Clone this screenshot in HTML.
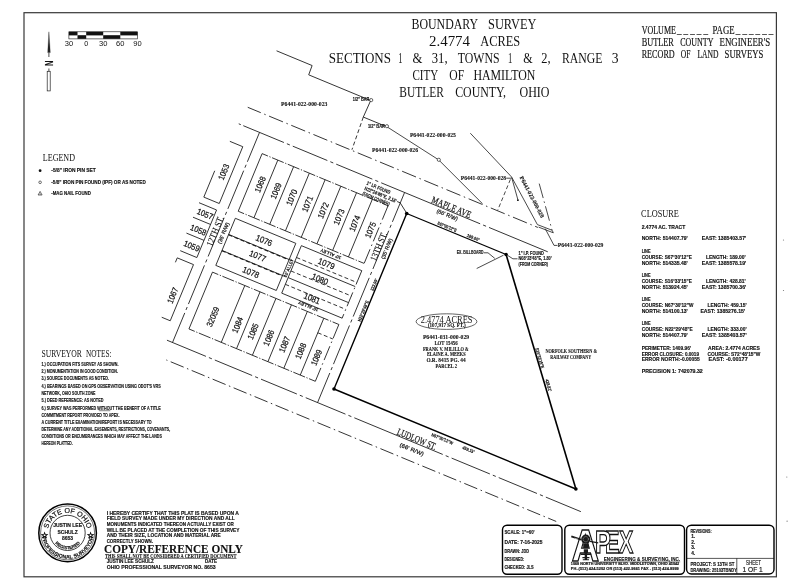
<!DOCTYPE html>
<html><head><meta charset="utf-8"><title>Boundary Survey</title>
<style>
html,body{margin:0;padding:0;background:#fff;}
body{width:795px;height:588px;overflow:hidden;}
svg{display:block;filter:grayscale(1);}
.sa{font-family:"Liberation Sans",sans-serif;fill:#111;}
text.sa[font-weight=bold]{stroke:#111;stroke-width:.14px;}
text.se[font-weight=bold]{stroke:#111;stroke-width:.1px;}
.se{font-family:"Liberation Serif",serif;fill:#111;}
.ln{stroke:#1c1c1c;stroke-width:.8;fill:none;}
.dd{stroke:#1c1c1c;stroke-width:.8;fill:none;stroke-dasharray:15 3.5 1.5 3.5;}
.lt{stroke:#1c1c1c;stroke-width:.8;fill:none;stroke-dasharray:12.6 1.62 1.2 1.62;}
.cl{stroke:#1c1c1c;stroke-width:.8;fill:none;stroke-dasharray:41.4 3.2 3.2 3.2;}
.ds{stroke:#1c1c1c;stroke-width:.8;fill:none;stroke-dasharray:4 2.5;}
.bd{stroke:#000;stroke-width:1.5;fill:none;stroke-linejoin:round;}
.bx{stroke:#000;stroke-width:1.4;fill:none;}
</style></head><body>
<svg width="795" height="588" viewBox="0 0 795 588">
<rect width="795" height="588" fill="#fff"/>

<rect x="24" y="12.7" width="752.4" height="564.1" fill="none" stroke="#383838" stroke-width="1.2"/>
<circle cx="783.5" cy="240" r=".6" fill="#777"/>
<circle cx="783.5" cy="290.5" r=".6" fill="#777"/>
<circle cx="786.8" cy="477" r=".6" fill="#777"/>
<circle cx="787.1" cy="521.2" r=".6" fill="#777"/>
<text class="se" x="411.5" y="28.9" font-size="15.4" textLength="66.7" lengthAdjust="spacingAndGlyphs">BOUNDARY</text>
<text class="se" x="488.0" y="28.9" font-size="15.4" textLength="48.5" lengthAdjust="spacingAndGlyphs">SURVEY</text>
<text class="se" x="429.0" y="45.6" font-size="15.4" textLength="41.0" lengthAdjust="spacingAndGlyphs">2.4774</text>
<text class="se" x="480.2" y="45.6" font-size="15.4" textLength="39.9" lengthAdjust="spacingAndGlyphs">ACRES</text>
<text class="se" x="328.8" y="62.9" font-size="15.4" textLength="62.2" lengthAdjust="spacingAndGlyphs">SECTIONS</text>
<text class="se" x="398.2" y="62.9" font-size="15.4" textLength="4.2" lengthAdjust="spacingAndGlyphs">1</text>
<text class="se" x="412.5" y="62.9" font-size="15.4" textLength="9.9" lengthAdjust="spacingAndGlyphs">&amp;</text>
<text class="se" x="431.8" y="62.9" font-size="15.4" textLength="15.8" lengthAdjust="spacingAndGlyphs">31,</text>
<text class="se" x="457.8" y="62.9" font-size="15.4" textLength="41.8" lengthAdjust="spacingAndGlyphs">TOWNS</text>
<text class="se" x="508.0" y="62.9" font-size="15.4" textLength="4.3" lengthAdjust="spacingAndGlyphs">1</text>
<text class="se" x="523.2" y="62.9" font-size="15.4" textLength="9.4" lengthAdjust="spacingAndGlyphs">&amp;</text>
<text class="se" x="541.2" y="62.9" font-size="15.4" textLength="9.3" lengthAdjust="spacingAndGlyphs">2,</text>
<text class="se" x="562.0" y="62.9" font-size="15.4" textLength="40.4" lengthAdjust="spacingAndGlyphs">RANGE</text>
<text class="se" x="611.8" y="62.9" font-size="15.4" textLength="6.8" lengthAdjust="spacingAndGlyphs">3</text>
<text class="se" x="412.5" y="79.7" font-size="15.4" textLength="25.8" lengthAdjust="spacingAndGlyphs">CITY</text>
<text class="se" x="449.3" y="79.7" font-size="15.4" textLength="14.9" lengthAdjust="spacingAndGlyphs">OF</text>
<text class="se" x="473.4" y="79.7" font-size="15.4" textLength="62.0" lengthAdjust="spacingAndGlyphs">HAMILTON</text>
<text class="se" x="399.3" y="96.5" font-size="15.4" textLength="44.6" lengthAdjust="spacingAndGlyphs">BUTLER</text>
<text class="se" x="455.2" y="96.5" font-size="15.4" textLength="50.9" lengthAdjust="spacingAndGlyphs">COUNTY,</text>
<text class="se" x="519.5" y="96.5" font-size="15.4" textLength="30.0" lengthAdjust="spacingAndGlyphs">OHIO</text>
<text class="se" x="641.7" y="34.1" font-size="11.8" textLength="34.2" lengthAdjust="spacingAndGlyphs" stroke="#111" stroke-width=".18">VOLUME</text>
<text class="se" x="712.5" y="34.1" font-size="11.8" textLength="22.1" lengthAdjust="spacingAndGlyphs" stroke="#111" stroke-width=".18">PAGE</text>
<text class="se" x="676.9" y="34.3" font-size="9" stroke="#111" stroke-width=".3" textLength="31" lengthAdjust="spacing">_____</text>
<text class="se" x="735.8" y="34.3" font-size="9" stroke="#111" stroke-width=".3" textLength="37.5" lengthAdjust="spacing">______</text>
<text class="se" x="641.7" y="46.2" font-size="11.8" textLength="32.2" lengthAdjust="spacingAndGlyphs" stroke="#111" stroke-width=".18">BUTLER</text>
<text class="se" x="680.3" y="46.2" font-size="11.8" textLength="33.2" lengthAdjust="spacingAndGlyphs" stroke="#111" stroke-width=".18">COUNTY</text>
<text class="se" x="719.5" y="46.2" font-size="11.8" textLength="50.7" lengthAdjust="spacingAndGlyphs" stroke="#111" stroke-width=".18">ENGINEER'S</text>
<text class="se" x="641.7" y="57.7" font-size="11.8" textLength="33.0" lengthAdjust="spacingAndGlyphs" stroke="#111" stroke-width=".18">RECORD</text>
<text class="se" x="680.7" y="57.7" font-size="11.8" textLength="9.7" lengthAdjust="spacingAndGlyphs" stroke="#111" stroke-width=".18">OF</text>
<text class="se" x="697.4" y="57.7" font-size="11.8" textLength="21.1" lengthAdjust="spacingAndGlyphs" stroke="#111" stroke-width=".18">LAND</text>
<text class="se" x="724.6" y="57.7" font-size="11.8" textLength="38.6" lengthAdjust="spacingAndGlyphs" stroke="#111" stroke-width=".18">SURVEYS</text>
<rect x="68.9" y="31.8" width="68.6" height="7.1" fill="#fff" stroke="#111" stroke-width=".6"/>
<rect x="68.9" y="31.8" width="8.6" height="3.6" fill="#111"/>
<rect x="77.5" y="35.2" width="8.7" height="3.6" fill="#111"/>
<rect x="86.2" y="31.8" width="17.0" height="3.6" fill="#111"/>
<rect x="103.2" y="35.2" width="17.1" height="3.6" fill="#111"/>
<rect x="120.3" y="31.8" width="17.2" height="3.6" fill="#111"/>
<text class="sa" x="68.9" y="45.8" font-size="6.7" textLength="8.4" lengthAdjust="spacingAndGlyphs" text-anchor="middle">30</text>
<text class="sa" x="86.2" y="45.8" font-size="6.7" textLength="4.0" lengthAdjust="spacingAndGlyphs" text-anchor="middle">0</text>
<text class="sa" x="103.2" y="45.8" font-size="6.7" textLength="8.4" lengthAdjust="spacingAndGlyphs" text-anchor="middle">30</text>
<text class="sa" x="120.3" y="45.8" font-size="6.7" textLength="8.4" lengthAdjust="spacingAndGlyphs" text-anchor="middle">60</text>
<text class="sa" x="137.5" y="45.8" font-size="6.7" textLength="8.4" lengthAdjust="spacingAndGlyphs" text-anchor="middle">90</text>
<path d="M48.9 31.8 L50.3 52.6 L47.7 52.6 Z" fill="#222" stroke="#222" stroke-width=".3"/>
<path d="M48.9 52.5 V57" class="ln"/>
<rect x="47.2" y="71.3" width="3" height="19.6" fill="#fff" stroke="#222" stroke-width=".7"/>
<path d="M48.9 68.5 V71.3" class="ln"/>
<text class="sa" x="52.6" y="66.1" font-size="11.6" textLength="5.4" lengthAdjust="spacingAndGlyphs" font-weight="bold" transform="rotate(-90 52.6 66.1)">N</text>
<text class="se" x="42.8" y="161.4" font-size="11.4" textLength="32.2" lengthAdjust="spacingAndGlyphs">LEGEND</text>
<circle cx="40.1" cy="170.7" r="1.4" fill="#111"/>
<circle cx="40.1" cy="182.3" r="1.3" fill="none" stroke="#111" stroke-width=".6"/>
<path d="M40.1 191.4 L42.1 195 L38.1 195 Z" fill="none" stroke="#111" stroke-width=".6"/><circle cx="40.1" cy="193.9" r=".5" fill="#111"/>
<text class="sa" x="51.3" y="172.0" font-size="5" textLength="44.4" lengthAdjust="spacingAndGlyphs" font-weight="bold">-5/8" IRON PIN SET</text>
<text class="sa" x="51.3" y="183.9" font-size="5" textLength="94.5" lengthAdjust="spacingAndGlyphs" font-weight="bold">-5/8" IRON PIN FOUND (IPF) OR AS NOTED</text>
<text class="sa" x="51.3" y="195.2" font-size="5" textLength="39.5" lengthAdjust="spacingAndGlyphs" font-weight="bold">-MAG NAIL FOUND</text>
<text class="se" x="41.5" y="357.1" font-size="11.4" textLength="40.4" lengthAdjust="spacingAndGlyphs">SURVEYOR</text>
<text class="se" x="85.9" y="357.1" font-size="11.4" textLength="25.6" lengthAdjust="spacingAndGlyphs">NOTES:</text>
<text class="sa" x="41.5" y="365.8" font-size="5.4" textLength="77.0" lengthAdjust="spacingAndGlyphs" font-weight="bold">1.) OCCUPATION FITS SURVEY AS SHOWN.</text>
<text class="sa" x="41.5" y="372.8" font-size="5.4" textLength="76.5" lengthAdjust="spacingAndGlyphs" font-weight="bold">2.) MONUMENTATION IN GOOD CONDITION.</text>
<text class="sa" x="41.5" y="379.8" font-size="5.4" textLength="67.4" lengthAdjust="spacingAndGlyphs" font-weight="bold">3.) SOURCE DOCUMENTS AS NOTED.</text>
<text class="sa" x="41.5" y="388.3" font-size="5.4" textLength="119.3" lengthAdjust="spacingAndGlyphs" font-weight="bold">4.) BEARINGS BASED ON GPS OBSERVATION USING ODOT'S VRS</text>
<text class="sa" x="41.5" y="394.9" font-size="5.4" textLength="53.9" lengthAdjust="spacingAndGlyphs" font-weight="bold">NETWORK, OHIO SOUTH ZONE</text>
<text class="sa" x="41.5" y="401.8" font-size="5.4" textLength="61.9" lengthAdjust="spacingAndGlyphs" font-weight="bold">5.) DEED REFERENCE: AS NOTED</text>
<text class="sa" x="41.5" y="409.8" font-size="5.4" textLength="119.3" lengthAdjust="spacingAndGlyphs" font-weight="bold">6.) SURVEY WAS PERFORMED WITHOUT THE BENEFIT OF A TITLE</text>
<text class="sa" x="41.5" y="416.9" font-size="5.4" textLength="78.0" lengthAdjust="spacingAndGlyphs" font-weight="bold">COMMITMENT REPORT PROVIDED TO APEX.</text>
<text class="sa" x="41.5" y="424.1" font-size="5.4" textLength="110.2" lengthAdjust="spacingAndGlyphs" font-weight="bold">A CURRENT TITLE EXAMINATION/REPORT IS NECESSARY TO</text>
<text class="sa" x="41.5" y="430.9" font-size="5.4" textLength="128.7" lengthAdjust="spacingAndGlyphs" font-weight="bold">DETERMINE ANY ADDITIONAL EASEMENTS, RESTRICTIONS, COVENANTS,</text>
<text class="sa" x="41.5" y="438.0" font-size="5.4" textLength="120.3" lengthAdjust="spacingAndGlyphs" font-weight="bold">CONDITIONS OR ENCUMBRANCES WHICH MAY AFFECT THE LANDS</text>
<text class="sa" x="41.5" y="444.6" font-size="5.4" textLength="31.2" lengthAdjust="spacingAndGlyphs" font-weight="bold">HEREON PLATTED.</text>
<path d="M98.8 410.7 H110.3" stroke="#111" stroke-width=".5"/>
<text class="se" x="641.1" y="217.1" font-size="11.4" textLength="37.8" lengthAdjust="spacingAndGlyphs">CLOSURE</text>
<text class="sa" x="641.7" y="228.6" font-size="4.9" textLength="43.6" lengthAdjust="spacingAndGlyphs" font-weight="bold">2.4774 AC. TRACT</text>
<text class="sa" x="641.7" y="240.2" font-size="4.9" textLength="46.0" lengthAdjust="spacingAndGlyphs" font-weight="bold">NORTH: 514407.79'</text>
<text class="sa" x="701.8" y="240.2" font-size="4.9" textLength="44.5" lengthAdjust="spacingAndGlyphs" font-weight="bold">EAST: 1385403.57'</text>
<text class="sa" x="641.7" y="252.7" font-size="4.9" textLength="8.8" lengthAdjust="spacingAndGlyphs" font-weight="bold">LINE</text>
<text class="sa" x="641.7" y="259.0" font-size="4.9" textLength="50.1" lengthAdjust="spacingAndGlyphs" font-weight="bold">COURSE: S67°30'12"E</text>
<text class="sa" x="706.0" y="259.0" font-size="4.9" textLength="39.7" lengthAdjust="spacingAndGlyphs" font-weight="bold">LENGTH: 189.00'</text>
<text class="sa" x="641.7" y="265.0" font-size="4.9" textLength="46.0" lengthAdjust="spacingAndGlyphs" font-weight="bold">NORTH: 514335.48'</text>
<text class="sa" x="701.8" y="265.0" font-size="4.9" textLength="44.5" lengthAdjust="spacingAndGlyphs" font-weight="bold">EAST: 1385578.19'</text>
<text class="sa" x="641.7" y="276.9" font-size="4.9" textLength="8.8" lengthAdjust="spacingAndGlyphs" font-weight="bold">LINE</text>
<text class="sa" x="641.7" y="283.1" font-size="4.9" textLength="50.1" lengthAdjust="spacingAndGlyphs" font-weight="bold">COURSE: S16°33'15"E</text>
<text class="sa" x="706.0" y="283.1" font-size="4.9" textLength="39.7" lengthAdjust="spacingAndGlyphs" font-weight="bold">LENGTH: 428.81'</text>
<text class="sa" x="641.7" y="289.1" font-size="4.9" textLength="46.0" lengthAdjust="spacingAndGlyphs" font-weight="bold">NORTH: 513924.45'</text>
<text class="sa" x="701.8" y="289.1" font-size="4.9" textLength="44.5" lengthAdjust="spacingAndGlyphs" font-weight="bold">EAST: 1385700.36'</text>
<text class="sa" x="641.7" y="300.5" font-size="4.9" textLength="8.8" lengthAdjust="spacingAndGlyphs" font-weight="bold">LINE</text>
<text class="sa" x="641.7" y="306.7" font-size="4.9" textLength="51.7" lengthAdjust="spacingAndGlyphs" font-weight="bold">COURSE: N67°30'12"W</text>
<text class="sa" x="707.5" y="306.7" font-size="4.9" textLength="39.2" lengthAdjust="spacingAndGlyphs" font-weight="bold">LENGTH: 459.15'</text>
<text class="sa" x="641.7" y="312.5" font-size="4.9" textLength="46.0" lengthAdjust="spacingAndGlyphs" font-weight="bold">NORTH: 514100.13'</text>
<text class="sa" x="700.4" y="312.5" font-size="4.9" textLength="44.7" lengthAdjust="spacingAndGlyphs" font-weight="bold">EAST: 1385276.15'</text>
<text class="sa" x="641.7" y="324.6" font-size="4.9" textLength="8.8" lengthAdjust="spacingAndGlyphs" font-weight="bold">LINE</text>
<text class="sa" x="641.7" y="330.6" font-size="4.9" textLength="51.1" lengthAdjust="spacingAndGlyphs" font-weight="bold">COURSE: N22°29'48"E</text>
<text class="sa" x="707.5" y="330.6" font-size="4.9" textLength="39.2" lengthAdjust="spacingAndGlyphs" font-weight="bold">LENGTH: 333.00'</text>
<text class="sa" x="641.7" y="336.7" font-size="4.9" textLength="46.0" lengthAdjust="spacingAndGlyphs" font-weight="bold">NORTH: 514407.79'</text>
<text class="sa" x="701.8" y="336.7" font-size="4.9" textLength="44.9" lengthAdjust="spacingAndGlyphs" font-weight="bold">EAST: 1385403.57'</text>
<text class="sa" x="641.7" y="349.8" font-size="4.9" textLength="49.3" lengthAdjust="spacingAndGlyphs" font-weight="bold">PERIMETER: 1409.96'</text>
<text class="sa" x="708.1" y="349.8" font-size="4.9" textLength="51.7" lengthAdjust="spacingAndGlyphs" font-weight="bold">AREA: 2.4774 ACRES</text>
<text class="sa" x="641.7" y="355.8" font-size="4.9" textLength="57.3" lengthAdjust="spacingAndGlyphs" font-weight="bold">ERROR CLOSURE: 0.0019</text>
<text class="sa" x="707.5" y="355.8" font-size="4.9" textLength="52.9" lengthAdjust="spacingAndGlyphs" font-weight="bold">COURSE: S72°48'15"W</text>
<text class="sa" x="641.7" y="361.4" font-size="4.9" textLength="58.1" lengthAdjust="spacingAndGlyphs" font-weight="bold">ERROR NORTH:-0.00055</text>
<text class="sa" x="708.5" y="361.4" font-size="4.9" textLength="39.2" lengthAdjust="spacingAndGlyphs" font-weight="bold">EAST: -0.00177</text>
<text class="sa" x="641.7" y="372.9" font-size="4.9" textLength="61.1" lengthAdjust="spacingAndGlyphs" font-weight="bold">PRECISION  1: 742079.32</text>
<g transform="translate(406.7,213.5) rotate(22.5)">
<path class="dd" style="stroke-dasharray:15 3.75 1.5 3.75" stroke-dashoffset=".9" d="M-187.5 -37.3 H126.5"/>
<path class="ln" d="M-189.5 -18.6 H-187.3"/>
<path class="ln" d="M-184.6 -18.6H-140.6M-137.4 -18.6H-134.2M-131.0 -18.6H-93.6M-90.4 -18.6H-87.2M-84.0 -18.6H-44.9M-41.7 -18.6H-38.5M-35.3 -18.6H71.8M75.0 -18.6H78.2M81.4 -18.6H145.0"/>
<path class="lt" stroke-dashoffset="6.3" d="M-156.5 0 H-20.2"/>
<path class="lt" stroke-dashoffset="6.3" d="M-157 190 H-20.2"/>
<path class="ln" d="M-173.0 208.8H-130.8M-127.6 208.8H-124.4M-121.2 208.8H-80.8M-77.6 208.8H-74.4M-71.2 208.8H-32.4M-29.2 208.8H-26.0M-22.8 208.8H20.2M23.4 208.8H26.6M29.8 208.8H125.5M128.7 208.8H131.9M135.1 208.8H176.5M179.7 208.8H182.9M186.1 208.8H227.5M230.7 208.8H233.9M237.1 208.8H275.0"/>
<path class="dd" style="stroke-dasharray:14 3.6 1.5 3.6" stroke-dashoffset="18" d="M-166 227.3 H256"/>
<path class="ln" d="M-167 -18.6V13.2M-167 16.4V19.6M-167 22.8V64.2M-167 67.4V70.6M-167 73.8V115.7M-167 118.9V122.1M-167 125.3V167.2M-167 170.4V173.6M-167 176.8V208.8"/>
<path class="ln" d="M-10 -18.6V13.2M-10 16.4V19.6M-10 22.8V64.2M-10 67.4V70.6M-10 73.8V115.7M-10 118.9V122.1M-10 125.3V167.2M-10 170.4V173.6M-10 176.8V208.8"/>
<path class="dd" d="M-20.2 0 V62.4 M-19.6 70 V121.5 M-20.2 128.5 V190"/>
<path class="ln" d="M-191 1 H-177 V62.5 H-193.7 V34"/>
<path class="ln" d="M-196 69.5 H-177 V121 H-195 M-196 85.2 H-177 M-196 102.4 H-177"/>
<path class="ln" d="M-195 133.6 V128.8 H-177.4 V189.6 H-186.6"/>
<path class="ln" d="M-156.5 0 V62.4 M-139.5 0 V62.4 M-122.4 0 V62.4 M-105.4 0 V62.4 M-88.3 0 V62.4 M-71.3 0 V62.4 M-54.3 0 V62.4 M-37.2 0 V62.4"/>
<path class="lt" stroke-dashoffset="6.3" d="M-156.5 62.4 H-20.2"/>
<path class="ln" d="M-156.5 70 H-91 V121 H-156.5 Z"/>
<path class="ln" d="M-156.5 87.5 H-91 M-156.5 104.8 H-91"/>
<path class="ds" style="stroke-width:1.1" d="M-156.5 87.9 H-91 M-156.5 105.2 H-91"/>
<path class="ln" d="M-19.6 70 H-85 V121.4 H-19.6 M-85 87.2 H-19.6 M-85 104.6 H-19.6"/>
<path class="ds" d="M-85 82.8 H-19.6 M-85 97.4 H-19.6 M-85 111.9 H-19.6 M-91 87.5 H-85 M-91 104.8 H-85"/>
<path class="ln" d="M-157 128.5 V190 M-122 128.5 V190 M-105.5 128.5 V190 M-88.3 128.5 V190 M-71.5 128.5 V190 M-54.3 128.5 V190 M-36.5 128.5 V190"/>
<path class="lt" stroke-dashoffset="6.3" d="M-157 128.5 H-20.2"/>
<path class="ds" d="M-36.5 144.2 H-20.2"/>
<path class="ln" d="M-182.5 -100.5 H-144 L-143.6 -90.6 H-76.5 L-77 -72.5 H-51.5"/>
<path class="ds" d="M-77 -72.5 L-75 -38"/>
<text class="sa" x="-143.6" y="37.5" font-size="8.4" textLength="16.6" lengthAdjust="spacingAndGlyphs" transform="rotate(-90 -143.6 37.5)" stroke="#111" stroke-width=".22">1068</text>
<text class="sa" x="-126.5" y="37.5" font-size="8.4" textLength="16.6" lengthAdjust="spacingAndGlyphs" transform="rotate(-90 -126.5 37.5)" stroke="#111" stroke-width=".22">1069</text>
<text class="sa" x="-109.5" y="37.5" font-size="8.4" textLength="16.6" lengthAdjust="spacingAndGlyphs" transform="rotate(-90 -109.5 37.5)" stroke="#111" stroke-width=".22">1070</text>
<text class="sa" x="-92.5" y="37.5" font-size="8.4" textLength="16.6" lengthAdjust="spacingAndGlyphs" transform="rotate(-90 -92.5 37.5)" stroke="#111" stroke-width=".22">1071</text>
<text class="sa" x="-75.4" y="37.5" font-size="8.4" textLength="16.6" lengthAdjust="spacingAndGlyphs" transform="rotate(-90 -75.4 37.5)" stroke="#111" stroke-width=".22">1072</text>
<text class="sa" x="-58.4" y="37.5" font-size="8.4" textLength="16.6" lengthAdjust="spacingAndGlyphs" transform="rotate(-90 -58.4 37.5)" stroke="#111" stroke-width=".22">1073</text>
<text class="sa" x="-41.3" y="37.5" font-size="8.4" textLength="16.6" lengthAdjust="spacingAndGlyphs" transform="rotate(-90 -41.3 37.5)" stroke="#111" stroke-width=".22">1074</text>
<text class="sa" x="-24.3" y="37.5" font-size="8.4" textLength="16.6" lengthAdjust="spacingAndGlyphs" transform="rotate(-90 -24.3 37.5)" stroke="#111" stroke-width=".22">1075</text>
<text class="sa" x="-182.0" y="40.0" font-size="8.4" textLength="16.6" lengthAdjust="spacingAndGlyphs" transform="rotate(-90 -182.0 40.0)" stroke="#111" stroke-width=".22">1053</text>
<text class="sa" x="-182.0" y="173.5" font-size="8.4" textLength="16.6" lengthAdjust="spacingAndGlyphs" transform="rotate(-90 -182.0 173.5)" stroke="#111" stroke-width=".22">1067</text>
<text class="sa" x="-136.6" y="180.0" font-size="8.4" textLength="20.8" lengthAdjust="spacingAndGlyphs" transform="rotate(-90 -136.6 180.0)" stroke="#111" stroke-width=".22">32059</text>
<text class="sa" x="-110.7" y="176.0" font-size="8.4" textLength="16.6" lengthAdjust="spacingAndGlyphs" transform="rotate(-90 -110.7 176.0)" stroke="#111" stroke-width=".22">1084</text>
<text class="sa" x="-93.9" y="176.0" font-size="8.4" textLength="16.6" lengthAdjust="spacingAndGlyphs" transform="rotate(-90 -93.9 176.0)" stroke="#111" stroke-width=".22">1085</text>
<text class="sa" x="-76.9" y="176.0" font-size="8.4" textLength="16.6" lengthAdjust="spacingAndGlyphs" transform="rotate(-90 -76.9 176.0)" stroke="#111" stroke-width=".22">1086</text>
<text class="sa" x="-59.9" y="176.0" font-size="8.4" textLength="16.6" lengthAdjust="spacingAndGlyphs" transform="rotate(-90 -59.9 176.0)" stroke="#111" stroke-width=".22">1087</text>
<text class="sa" x="-42.4" y="176.0" font-size="8.4" textLength="16.6" lengthAdjust="spacingAndGlyphs" transform="rotate(-90 -42.4 176.0)" stroke="#111" stroke-width=".22">1088</text>
<text class="sa" x="-25.4" y="176.0" font-size="8.4" textLength="16.6" lengthAdjust="spacingAndGlyphs" transform="rotate(-90 -25.4 176.0)" stroke="#111" stroke-width=".22">1089</text>
<text class="sa" x="-130.1" y="82.5" font-size="8.6" textLength="17.2" lengthAdjust="spacingAndGlyphs" stroke="#111" stroke-width=".22">1076</text>
<text class="sa" x="-130.1" y="99.3" font-size="8.6" textLength="17.2" lengthAdjust="spacingAndGlyphs" stroke="#111" stroke-width=".22">1077</text>
<text class="sa" x="-130.1" y="117.0" font-size="8.6" textLength="17.2" lengthAdjust="spacingAndGlyphs" stroke="#111" stroke-width=".22">1078</text>
<text class="sa" x="-63.6" y="80.1" font-size="8.6" textLength="17.2" lengthAdjust="spacingAndGlyphs" stroke="#111" stroke-width=".22">1079</text>
<text class="sa" x="-63.6" y="96.8" font-size="8.6" textLength="17.2" lengthAdjust="spacingAndGlyphs" stroke="#111" stroke-width=".22">1080</text>
<text class="sa" x="-63.6" y="117.7" font-size="8.6" textLength="17.2" lengthAdjust="spacingAndGlyphs" stroke="#111" stroke-width=".22">1081</text>
<text class="sa" x="-194.5" y="80.6" font-size="8.4" textLength="16.6" lengthAdjust="spacingAndGlyphs" stroke="#111" stroke-width=".22">1057</text>
<text class="sa" x="-194.5" y="97.9" font-size="8.4" textLength="16.6" lengthAdjust="spacingAndGlyphs" stroke="#111" stroke-width=".22">1058</text>
<text class="sa" x="-194.5" y="115.3" font-size="8.4" textLength="16.6" lengthAdjust="spacingAndGlyphs" stroke="#111" stroke-width=".22">1059</text>
<text class="se" x="-167.2" y="105.4" font-size="9.6" textLength="31.8" lengthAdjust="spacingAndGlyphs" transform="rotate(-90 -167.2 105.4)" stroke="#111" stroke-width=".1">12TH ST.</text>
<text class="sa" x="-160.0" y="99.4" font-size="5.3" textLength="22.5" lengthAdjust="spacingAndGlyphs" transform="rotate(-90 -160.0 99.4)" stroke="#111" stroke-width=".2">(35' R/W)</text>
<text class="se" x="-10.2" y="56.5" font-size="9.6" textLength="30.5" lengthAdjust="spacingAndGlyphs" transform="rotate(-90 -10.2 56.5)" stroke="#111" stroke-width=".1">13TH ST.</text>
<text class="sa" x="-3.1" y="51.2" font-size="5.3" textLength="22.0" lengthAdjust="spacingAndGlyphs" transform="rotate(-90 -3.1 51.2)" stroke="#111" stroke-width=".2">(35' R/W)</text>
<text class="se" x="18.0" y="-19.6" font-size="9.8" textLength="42.0" lengthAdjust="spacingAndGlyphs" stroke="#111" stroke-width=".2">MAPLE AVE</text>
<text class="sa" x="26.8" y="-12.3" font-size="5.6" textLength="22.5" lengthAdjust="spacingAndGlyphs" stroke="#111" stroke-width=".2">(66' R/W)</text>
<text class="se" x="74.9" y="207.8" font-size="9.8" textLength="41.7" lengthAdjust="spacingAndGlyphs" stroke="#111" stroke-width=".2">LUDLOW ST.</text>
<text class="sa" x="82.2" y="218.0" font-size="5.6" textLength="25.6" lengthAdjust="spacingAndGlyphs" stroke="#111" stroke-width=".2">(66' R/W)</text>
<text class="sa" x="32.1" y="-1.6" font-size="4.6" textLength="20.4" lengthAdjust="spacingAndGlyphs" font-weight="bold">S67°30'12"E</text>
<text class="sa" x="64.1" y="-1.6" font-size="4.6" textLength="13.0" lengthAdjust="spacingAndGlyphs" font-weight="bold">189.00'</text>
<text class="sa" x="107.7" y="196.2" font-size="4.6" textLength="23.0" lengthAdjust="spacingAndGlyphs" font-weight="bold">N67°30'12"W</text>
<text class="sa" x="141.2" y="196.2" font-size="4.6" textLength="12.5" lengthAdjust="spacingAndGlyphs" font-weight="bold">459.15'</text>
<text class="sa" x="-1.2" y="117.9" font-size="4.6" textLength="22.3" lengthAdjust="spacingAndGlyphs" font-weight="bold" transform="rotate(-90 -1.2 117.9)">N22°29'48"E</text>
<text class="sa" x="-1.2" y="84.6" font-size="4.6" textLength="12.5" lengthAdjust="spacingAndGlyphs" font-weight="bold" transform="rotate(-90 -1.2 84.6)">333.00'</text>
<text class="sa" x="-43.7" y="64.9" font-size="4.6" textLength="21.8" lengthAdjust="spacingAndGlyphs" font-weight="bold" transform="rotate(180 -43.7 64.9)">10' ALLEY</text>
<text class="sa" x="-44.7" y="121.7" font-size="4.6" textLength="21.3" lengthAdjust="spacingAndGlyphs" font-weight="bold" transform="rotate(180 -44.7 121.7)">10' ALLEY</text>
<text class="sa" x="-86.5" y="105.0" font-size="4.6" textLength="19.0" lengthAdjust="spacingAndGlyphs" font-weight="bold" transform="rotate(-90 -86.5 105.0)">10' ALLEY</text>
<text class="sa" x="-48.5" y="-11.3" font-size="5.2" textLength="25.2" lengthAdjust="spacingAndGlyphs" font-weight="bold">1" I.P. FOUND</text>
<text class="sa" x="-48.5" y="-5.6" font-size="5.2" textLength="34.3" lengthAdjust="spacingAndGlyphs" font-weight="bold">N22°24'48"E, 2.16'</text>
<text class="sa" x="-48.5" y="-0.1" font-size="5.2" textLength="29.0" lengthAdjust="spacingAndGlyphs" font-weight="bold">(FROM CORNER)</text>
<path class="ln" d="M-13.4 -7.4 H-10.2 L-0.6 -0.6"/>
</g>
<path class="ln" d="M387 126.8 L438.6 159.8 L482.4 203.6"/>
<path class="ln" d="M470.3 133.2 L511.6 177 L537.4 224.6"/>
<path class="ln" d="M537.4 224.6 L552.2 230.3 L553.3 232.8 L538.6 227.1"/>
<path class="dd" d="M539.2 183.6 L552 230"/>
<path class="ds" d="M510.4 179.4 L497.6 210.4"/>
<path class="ln" d="M511.7 177.5 L517.9 199.8"/><circle cx="517.9" cy="200.2" r=".9" fill="#111"/>
<path class="ln" d="M506.2 178.2 H511.6"/>
<path class="ln" d="M545.2 228.6 L554 245.4 H557.5"/>
<circle cx="371.2" cy="100.1" r="1.6" fill="#fff" stroke="#222" stroke-width=".7"/>
<circle cx="386.9" cy="126.2" r="1.6" fill="#fff" stroke="#222" stroke-width=".7"/>
<circle cx="438.8" cy="159.8" r="1.6" fill="#fff" stroke="#222" stroke-width=".7"/>
<text class="sa" x="352.8" y="101.3" font-size="4.6" textLength="16.5" lengthAdjust="spacingAndGlyphs" font-weight="bold">1/2" BAR</text>
<text class="sa" x="367.9" y="128.0" font-size="4.6" textLength="17.0" lengthAdjust="spacingAndGlyphs" font-weight="bold">1/2" BAR</text>
<text class="se" x="281.1" y="105.9" font-size="5.8" textLength="46.3" lengthAdjust="spacingAndGlyphs" font-weight="bold">P6441-022-000-023</text>
<text class="se" x="409.9" y="137.4" font-size="5.8" textLength="46.0" lengthAdjust="spacingAndGlyphs" font-weight="bold">P6441-022-000-025</text>
<text class="se" x="372.0" y="151.9" font-size="5.8" textLength="46.0" lengthAdjust="spacingAndGlyphs" font-weight="bold">P6441-022-000-026</text>
<text class="se" x="460.8" y="179.8" font-size="5.8" textLength="45.2" lengthAdjust="spacingAndGlyphs" font-weight="bold">P6441-022-000-028</text>
<text class="se" x="557.8" y="247.4" font-size="5.8" textLength="45.6" lengthAdjust="spacingAndGlyphs" font-weight="bold">P6441-022-000-029</text>
<text class="se" x="519.6" y="177.6" font-size="5.8" textLength="46.0" lengthAdjust="spacingAndGlyphs" font-weight="bold" transform="rotate(62.3 519.6 177.6)">P6441-022-000-028</text>
<path class="bd" style="stroke-width:1.25" d="M406.7 213.5 L506.1 254.5"/>
<path class="bd" style="stroke-width:1.6" d="M506.1 254.5 L575.9 489"/>
<path class="bd" style="stroke-width:1.4" d="M575.9 489 L334 389 L406.7 213.5"/>
<circle cx="406.7" cy="213.5" r="1.8" fill="#000"/>
<circle cx="506.1" cy="254.5" r="1.8" fill="#000"/>
<circle cx="575.9" cy="489" r="1.8" fill="#000"/>
<circle cx="334" cy="389" r="1.8" fill="#000"/>
<path class="ln" d="M476.7 268.5 L503.5 255.2"/>
<path class="ln" d="M483.9 252.8 H488 L494.8 258.4"/>
<text class="sa" x="456.8" y="254.3" font-size="4.8" textLength="26.7" lengthAdjust="spacingAndGlyphs" font-weight="bold">EX. BILLBOARD</text>
<path class="ln" d="M507.6 255.4 L512.9 258.8 H517.5"/>
<text class="sa" x="518.5" y="254.6" font-size="4.8" textLength="25.4" lengthAdjust="spacingAndGlyphs" font-weight="bold">1" I.P. FOUND</text>
<text class="sa" x="518.5" y="259.9" font-size="4.8" textLength="33.2" lengthAdjust="spacingAndGlyphs" font-weight="bold">N08°23'48"E, 1.80'</text>
<text class="sa" x="518.5" y="266.4" font-size="4.8" textLength="29.4" lengthAdjust="spacingAndGlyphs" font-weight="bold">(FROM CORNER)</text>
<text class="sa" x="535.2" y="348.5" font-size="4.6" textLength="21.0" lengthAdjust="spacingAndGlyphs" font-weight="bold" transform="rotate(73.4 535.2 348.5)">S16°33'15"E</text>
<text class="sa" x="545.2" y="379.8" font-size="4.6" textLength="12.5" lengthAdjust="spacingAndGlyphs" font-weight="bold" transform="rotate(73.4 545.2 379.8)">428.81'</text>
<ellipse cx="446.5" cy="321.6" rx="30.4" ry="7.8" fill="none" stroke="#222" stroke-width=".7"/>
<text class="se" x="420.7" y="322.7" font-size="9.4" textLength="51.8" lengthAdjust="spacingAndGlyphs">2.4774 ACRES</text>
<text class="se" x="427.9" y="327.3" font-size="5.3" textLength="37.8" lengthAdjust="spacingAndGlyphs" font-weight="bold">(107,917 SQ. FT.)</text>
<text class="se" x="422.9" y="339.2" font-size="5.8" textLength="46.2" lengthAdjust="spacingAndGlyphs" font-weight="bold">P6441-031-000-029</text>
<text class="se" x="434.4" y="344.8" font-size="5.8" textLength="23.3" lengthAdjust="spacingAndGlyphs" font-weight="bold">LOT 15456</text>
<text class="se" x="422.9" y="350.6" font-size="5.8" textLength="45.8" lengthAdjust="spacingAndGlyphs" font-weight="bold">FRANK V. MILILLO &amp;</text>
<text class="se" x="426.9" y="355.8" font-size="5.8" textLength="38.8" lengthAdjust="spacingAndGlyphs" font-weight="bold">ELAINE A. MEEKS</text>
<text class="se" x="426.4" y="361.9" font-size="5.8" textLength="39.3" lengthAdjust="spacingAndGlyphs" font-weight="bold">O.R. 8415 PG. 44</text>
<text class="se" x="435.5" y="367.5" font-size="5.8" textLength="21.5" lengthAdjust="spacingAndGlyphs" font-weight="bold">PARCEL 2</text>
<text class="se" x="545.4" y="353.4" font-size="5.8" textLength="51.6" lengthAdjust="spacingAndGlyphs" font-weight="bold">NORFOLK SOUTHERN &amp;</text>
<text class="se" x="550.3" y="359.3" font-size="5.8" textLength="40.8" lengthAdjust="spacingAndGlyphs" font-weight="bold">RAILWAY COMPANY</text>
<circle cx="67.6" cy="532.9" r="28.8" fill="none" stroke="#000" stroke-width="1.5"/>
<circle cx="67.6" cy="532.9" r="27" fill="none" stroke="#111" stroke-width=".6"/>
<circle cx="67.6" cy="532.9" r="17.6" fill="none" stroke="#111" stroke-width=".8"/>
<defs><path id="arcT" d="M47.70 532.90 A19.9 19.9 0 0 1 87.50 532.90"/>
<path id="arcB" d="M41.70 532.90 A25.9 25.9 0 0 0 93.50 532.90"/>
<path id="arcR" d="M51.30 532.90 A16.3 16.3 0 0 0 83.90 532.90"/></defs>
<text class="sa" font-size="7.1" letter-spacing="0" stroke="#111" stroke-width=".2"><textPath href="#arcT" startOffset="50%" text-anchor="middle">STATE OF OHIO</textPath></text>
<text class="sa" font-size="5.3" font-weight="bold"><textPath href="#arcB" startOffset="50%" text-anchor="middle">PROFESSIONAL SURVEYOR</textPath></text>
<text class="sa" font-size="4.4" font-weight="bold"><textPath href="#arcR" startOffset="50%" text-anchor="middle">REGISTERED</textPath></text>
<text class="sa" x="67.6" y="527.4" font-size="5" text-anchor="middle" font-weight="bold">JUSTIN LEE</text>
<text class="sa" x="67.6" y="533.6" font-size="5" text-anchor="middle" font-weight="bold">SCHULZ</text>
<text class="sa" x="67.6" y="539.6" font-size="5" text-anchor="middle" font-weight="bold">8653</text>
<text class="sa" x="44.6" y="538.0" font-size="7.5" text-anchor="middle" font-weight="bold">☆</text>
<text class="sa" x="90.1" y="538.0" font-size="7.5" text-anchor="middle" font-weight="bold">☆</text>
<text class="sa" x="106.7" y="514.5" font-size="4.7" textLength="132.2" lengthAdjust="spacingAndGlyphs" font-weight="bold">I HEREBY CERTIFY THAT THIS PLAT IS BASED UPON A</text>
<text class="sa" x="106.7" y="520.1" font-size="4.7" textLength="128.1" lengthAdjust="spacingAndGlyphs" font-weight="bold">FIELD SURVEY MADE UNDER MY DIRECTION AND ALL</text>
<text class="sa" x="106.7" y="525.7" font-size="4.7" textLength="127.1" lengthAdjust="spacingAndGlyphs" font-weight="bold">MONUMENTS INDICATED THEREON ACTUALLY EXIST OR</text>
<text class="sa" x="106.7" y="531.6" font-size="4.7" textLength="132.8" lengthAdjust="spacingAndGlyphs" font-weight="bold">WILL BE PLACED AT THE COMPLETION OF THIS SURVEY</text>
<text class="sa" x="106.7" y="537.2" font-size="4.7" textLength="114.1" lengthAdjust="spacingAndGlyphs" font-weight="bold">AND THEIR SIZE, LOCATION AND MATERIAL ARE</text>
<text class="sa" x="106.7" y="542.6" font-size="4.7" textLength="46.3" lengthAdjust="spacingAndGlyphs" font-weight="bold">CORRECTLY SHOWN.</text>
<text class="se" x="104.0" y="552.7" font-size="13" textLength="138.9" lengthAdjust="spacingAndGlyphs" font-weight="bold">COPY/REFERENCE ONLY</text>
<text class="se" x="105.0" y="557.6" font-size="5.3" textLength="131.5" lengthAdjust="spacingAndGlyphs" font-weight="bold" stroke="#111" stroke-width=".25">THIS SHALL NOT BE CONSIDERED A CERTIFIED DOCUMENT</text>
<path d="M105 558.5 H236.5" stroke="#111" stroke-width=".5"/>
<text class="sa" x="106.7" y="563.4" font-size="4.7" textLength="47.3" lengthAdjust="spacingAndGlyphs" font-weight="bold">JUSTIN LEE SCHULZ</text>
<text class="sa" x="205.0" y="563.4" font-size="4.7" textLength="12.1" lengthAdjust="spacingAndGlyphs" font-weight="bold">DATE</text>
<text class="sa" x="106.7" y="569.0" font-size="4.7" textLength="109.0" lengthAdjust="spacingAndGlyphs" font-weight="bold">OHIO PROFESSIONAL SURVEYOR NO. 8653</text>
<rect class="bx" x="502.5" y="525.2" width="59.5" height="49" rx="4.5" fill="#fff"/>
<rect class="bx" x="564.8" y="525.2" width="119.7" height="49" rx="4.5" fill="#fff"/>
<rect class="bx" x="686.6" y="525.2" width="87.4" height="48.8" rx="4.8" fill="#fff"/>
<path d="M686.6 558.4 H774 M736.8 558.4 V574" stroke="#111" stroke-width=".7" fill="none"/>
<text class="sa" x="504.4" y="534.4" font-size="5" textLength="30.2" lengthAdjust="spacingAndGlyphs" font-weight="bold">SCALE: 1"=60'</text>
<text class="sa" x="504.4" y="543.5" font-size="5" textLength="38.1" lengthAdjust="spacingAndGlyphs" font-weight="bold">DATE: 7-16-2025</text>
<text class="sa" x="504.4" y="552.5" font-size="5" textLength="24.6" lengthAdjust="spacingAndGlyphs" font-weight="bold">DRAWN: JDD</text>
<text class="sa" x="504.4" y="560.5" font-size="5" textLength="19.8" lengthAdjust="spacingAndGlyphs" font-weight="bold">DESIGNED:</text>
<text class="sa" x="504.4" y="569.3" font-size="5" textLength="29.3" lengthAdjust="spacingAndGlyphs" font-weight="bold">CHECKED: JLS</text>
<text class="sa" x="690.4" y="532.5" font-size="4.8" textLength="21.3" lengthAdjust="spacingAndGlyphs" font-weight="bold">REVISIONS:</text>
<text class="sa" x="691.2" y="538.0" font-size="4.8" font-weight="bold">1.</text>
<text class="sa" x="691.2" y="543.6" font-size="4.8" font-weight="bold">2.</text>
<text class="sa" x="691.2" y="549.0" font-size="4.8" font-weight="bold">3.</text>
<text class="sa" x="691.2" y="554.5" font-size="4.8" font-weight="bold">4.</text>
<text class="sa" x="690.4" y="566.0" font-size="5" textLength="44.1" lengthAdjust="spacingAndGlyphs" font-weight="bold">PROJECT: S 13TH ST</text>
<text class="sa" x="690.4" y="571.5" font-size="5" textLength="46.4" lengthAdjust="spacingAndGlyphs" font-weight="bold">DRAWING: 25103TBNDY</text>
<text class="sa" x="746.0" y="565.2" font-size="6.6" textLength="14.9" lengthAdjust="spacingAndGlyphs" stroke="#111" stroke-width=".15">SHEET</text>
<text class="sa" x="742.6" y="571.7" font-size="6.6" textLength="20.2" lengthAdjust="spacingAndGlyphs" stroke="#111" stroke-width=".15">1  OF  1</text>
<text font-family='"Liberation Sans",sans-serif' font-weight="bold" fill="#fff" stroke="#111" stroke-width="1.3" stroke-linejoin="miter" font-size="44.3" transform="translate(571.6,560.8) scale(.87,1)">A</text>
<text font-family='"Liberation Sans",sans-serif' font-weight="bold" fill="#fff" stroke="#111" stroke-width="1.3" stroke-linejoin="miter" font-size="32" transform="translate(605.1,552.5) scale(.68,1)">E</text>
<text font-family='"Liberation Sans",sans-serif' font-weight="bold" fill="#fff" stroke="#111" stroke-width="1.3" stroke-linejoin="miter" font-size="32" transform="translate(595.1,552.5) scale(.74,1)">P</text>
<text font-family='"Liberation Sans",sans-serif' font-weight="bold" fill="#fff" stroke="#111" stroke-width="1.3" stroke-linejoin="miter" font-size="32" transform="translate(619,552.5) scale(.67,1)">X</text>
<circle cx="585.8" cy="539.2" r="4.6" fill="#1a1a1a"/>
<circle cx="585.8" cy="539.2" r="2.6" fill="none" stroke="#ccc" stroke-width=".6" stroke-dasharray="1.2 .9"/>
<path d="M571.3 536.4 L581 539.6" stroke="#1a1a1a" stroke-width="1.9"/>
<path d="M574.6 538.2 L578 539.2" stroke="#eee" stroke-width=".6"/>
<path d="M590 541.3 L598.2 542.9" stroke="#1a1a1a" stroke-width="1.2"/>
<path d="M583.2 543.5 H588.6 V548 H583.2 Z M583.8 549.2 H588 V553 H583.8 Z" fill="#1a1a1a"/>
<path d="M585.9 553 V560" stroke="#1a1a1a" stroke-width="2.4"/>
<path d="M580.6 554.4 H591.2 M582.4 557.6 H589.4 M582.8 559.8 H589" stroke="#1a1a1a" stroke-width="1.1"/>
<text class="sa" x="603.8" y="561.0" font-size="6" textLength="76.4" lengthAdjust="spacingAndGlyphs" font-weight="bold">ENGINEERING &amp; SURVEYING, INC.</text>
<path d="M599.8 561.9 H680.2" stroke="#111" stroke-width=".5"/>
<text class="sa" x="570.8" y="565.3" font-size="3.4" textLength="108.4" lengthAdjust="spacingAndGlyphs" font-weight="bold">1068 NORTH UNIVERSITY BLVD.    MIDDLETOWN, OHIO  45042</text>
<text class="sa" x="570.8" y="569.6" font-size="3.4" textLength="108.0" lengthAdjust="spacingAndGlyphs" font-weight="bold">PH.-(513) 424-5202 OR (513) 422-9661    FAX - (513) 424-8999</text>
</svg></body></html>
